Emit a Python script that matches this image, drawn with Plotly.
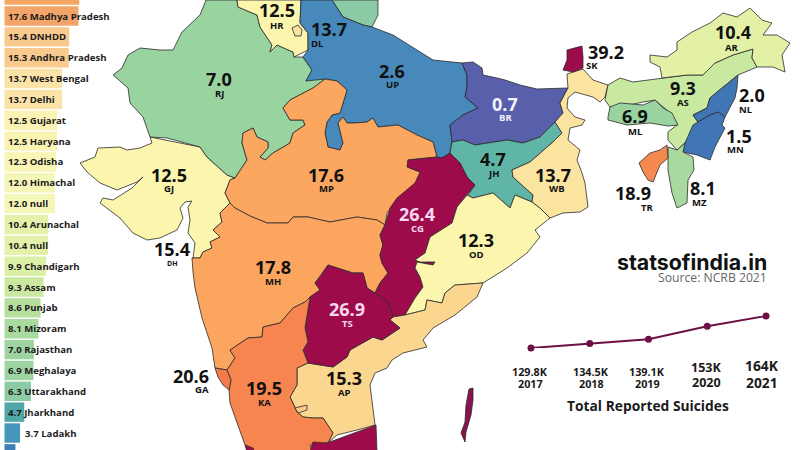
import plotly.graph_objects as go

# side ranking (row 0 = Madhya Pradesh, first and last rows are cut by the frame)
bar_names = ["Maharashtra", "Madhya Pradesh", "DNHDD", "Andhra Pradesh", "West Bengal", "Delhi", "Gujarat",
             "Haryana", "Odisha", "Himachal", "null", "Arunachal", "null", "Chandigarh", "Assam", "Punjab",
             "Mizoram", "Rajasthan", "Meghalaya", "Uttarakhand", "Jharkhand", "Ladakh", "Uttar Pradesh"]
bar_values = [17.8, 17.6, 15.4, 15.3, 13.7, 13.7, 12.5, 12.5, 12.3, 12.0, 12.0, 10.4, 10.4, 9.9, 9.3, 8.6,
              8.1, 7.0, 6.9, 6.3, 4.7, 3.7, 2.6]
bar_colors = ["#f5a662", "#f3a468", "#f9c98e", "#f9c98e", "#fbe2a6", "#fbe2a6", "#fbf3b4", "#fbf3b4", "#f9f5b4",
              "#f5f7b8", "#f5f7b8", "#e3f1aa", "#e3f1aa", "#dcefa6", "#cbe8a2", "#b6df9e", "#a9da9f", "#9dd4a2",
              "#9dd4a2", "#8dcba4", "#4fa7a8", "#4797bd", "#3f7fb8"]

# suicides per year
years = [2017, 2018, 2019, 2020, 2021]
total_suicides = [129.8, 134.5, 139.1, 153, 164]
total_labels = ["129.8K", "134.5K", "139.1K", "153K", "164K"]

# state outlines
GJ = [(150, 137), (152, 143), (140, 148), (127, 150), (120, 147), (98, 148), (95, 157), (80, 163), (87, 172),
      (100, 183), (117, 190), (137, 182), (143, 177), (132, 188), (113, 200), (103, 198), (100, 203), (120, 218),
      (133, 233), (147, 240), (160, 238), (177, 230), (183, 218), (180, 208), (185, 202), (192, 201), (188, 207),
      (190, 220), (188, 233), (195, 243), (193, 258), (200, 258), (203, 252), (212, 248), (210, 242), (220, 237),
      (213, 230), (222, 222), (220, 213), (230, 203), (225, 193), (230, 180), (235, 178), (227, 175), (207, 157),
      (200, 147)]
RJ = [(206, 0), (200, 15), (182, 32), (173, 50), (160, 50), (140, 48), (128, 55), (122, 68), (113, 75), (128, 88),
      (130, 103), (143, 117), (150, 137), (167, 138), (200, 147), (207, 157), (227, 175), (235, 178), (247, 160),
      (242, 143), (243, 133), (253, 128), (257, 137), (268, 142), (268, 148), (260, 157), (265, 160), (273, 153),
      (290, 143), (293, 133), (305, 125), (303, 120), (290, 120), (283, 108), (290, 100), (313, 88), (325, 79),
      (313, 78), (306, 81), (312, 70), (303, 57), (294, 57), (293, 52), (277, 45), (270, 52), (272, 45), (260, 27),
      (257, 15), (238, 7), (237, 0)]
HR = [(237, 0), (238, 7), (257, 15), (260, 27), (272, 45), (270, 52), (277, 45), (293, 52), (294, 57), (308, 50),
      (308, 33), (300, 23), (301, 0)]
DL = [(292, 28), (298, 25), (302, 30), (301, 36), (295, 36)]
UK = [(332, 0), (343, 17), (363, 25), (372, 27), (378, 15), (378, 0)]
UP = [(301, 0), (300, 23), (308, 33), (308, 50), (303, 57), (312, 70), (306, 81), (325, 79), (337, 81), (347, 90),
      (343, 103), (340, 113), (332, 115), (327, 122), (325, 133), (328, 147), (340, 150), (343, 143), (338, 123),
      (343, 117), (347, 123), (355, 123), (367, 122), (373, 118), (378, 127), (398, 125), (417, 135), (433, 142),
      (437, 157), (442, 158), (450, 153), (452, 140), (450, 125), (463, 115), (478, 108), (465, 97), (467, 87),
      (467, 75), (462, 63), (433, 60), (417, 50), (393, 35), (372, 27), (363, 25), (343, 17), (332, 0)]
MP = [(325, 79), (337, 81), (347, 90), (343, 103), (340, 113), (332, 115), (327, 122), (325, 133), (328, 147),
      (340, 150), (343, 143), (338, 123), (343, 117), (347, 123), (355, 123), (367, 122), (373, 118), (378, 127),
      (398, 125), (417, 135), (433, 142), (437, 157), (408, 160), (408, 167), (422, 173), (413, 187), (397, 200),
      (387, 213), (385, 225), (377, 220), (357, 217), (330, 222), (308, 217), (293, 217), (288, 223), (267, 223),
      (250, 216), (235, 208), (230, 203), (225, 193), (230, 180), (235, 178), (247, 160), (242, 143), (243, 133),
      (253, 128), (257, 137), (268, 142), (268, 148), (260, 157), (265, 160), (273, 153), (290, 143), (293, 133),
      (305, 125), (303, 120), (290, 120), (283, 108), (290, 100), (313, 88)]
MH = [(192, 258), (200, 258), (203, 252), (212, 248), (210, 242), (220, 237), (213, 230), (222, 222), (220, 213),
      (230, 203), (235, 208), (250, 216), (267, 223), (288, 223), (293, 217), (308, 217), (330, 222), (357, 217),
      (377, 220), (385, 225), (380, 235), (383, 245), (380, 255), (382, 263), (388, 273), (380, 283), (375, 293),
      (367, 288), (363, 273), (353, 273), (343, 270), (328, 265), (315, 283), (320, 290), (310, 297), (305, 302),
      (293, 308), (280, 323), (263, 327), (262, 337), (248, 338), (230, 350), (235, 358), (227, 370), (215, 368),
      (212, 348), (202, 318), (195, 288), (193, 272)]
BR = [(462, 63), (473, 62), (482, 68), (483, 75), (497, 78), (505, 80), (520, 85), (537, 89), (568, 88), (560, 103),
      (563, 113), (555, 122), (540, 137), (523, 143), (507, 140), (487, 143), (475, 145), (463, 140), (452, 142),
      (450, 125), (463, 115), (478, 108), (465, 97), (467, 87), (467, 75)]
JH = [(452, 142), (463, 140), (475, 145), (487, 143), (507, 140), (523, 143), (540, 137), (555, 122), (562, 133),
      (553, 142), (530, 162), (512, 170), (513, 177), (533, 195), (532, 202), (515, 195), (510, 208), (493, 193),
      (473, 198), (468, 195), (475, 185), (467, 177), (460, 163), (450, 153)]
CG = [(408, 160), (437, 157), (442, 158), (450, 153), (460, 163), (467, 177), (475, 185), (467, 195), (457, 207),
      (452, 223), (430, 237), (425, 253), (415, 260), (420, 262), (435, 262), (433, 265), (417, 262), (415, 268),
      (420, 277), (423, 287), (415, 298), (405, 315), (393, 317), (388, 302), (375, 293), (380, 283), (388, 273),
      (382, 263), (380, 255), (383, 245), (380, 235), (385, 225), (390, 208), (397, 198), (415, 183), (420, 172),
      (407, 167)]
OD = [(467, 195), (473, 198), (493, 193), (510, 208), (515, 195), (532, 202), (540, 208), (550, 218), (535, 230),
      (540, 237), (527, 253), (507, 268), (483, 283), (455, 285), (445, 293), (442, 303), (427, 300), (425, 310),
      (405, 315), (415, 298), (423, 287), (420, 277), (415, 268), (417, 262), (433, 265), (435, 262), (420, 262),
      (415, 260), (425, 253), (430, 237), (452, 223), (457, 207)]
AP = [(483, 283), (477, 297), (455, 315), (433, 328), (423, 340), (427, 347), (403, 353), (392, 360), (387, 368),
      (375, 373), (370, 385), (372, 402), (375, 425), (357, 430), (337, 435), (328, 443), (333, 433), (323, 418),
      (313, 418), (303, 417), (297, 412), (293, 403), (290, 397), (297, 385), (297, 368), (308, 363), (333, 367),
      (347, 357), (350, 350), (373, 337), (382, 340), (400, 328), (390, 320), (393, 317), (405, 315), (425, 310),
      (427, 300), (442, 303), (445, 293), (455, 285)]
TS = [(328, 265), (343, 270), (353, 273), (363, 273), (367, 288), (375, 293), (388, 302), (393, 317), (390, 320),
      (400, 328), (382, 340), (373, 337), (350, 350), (347, 357), (333, 367), (308, 363), (303, 350), (308, 342),
      (305, 328), (310, 297), (320, 290), (315, 283), (320, 277)]
KA = [(227, 370), (235, 358), (230, 350), (248, 338), (262, 337), (263, 327), (280, 323), (293, 308), (305, 302),
      (310, 297), (305, 328), (308, 342), (303, 350), (308, 363), (297, 368), (297, 385), (290, 397), (293, 403),
      (297, 412), (303, 417), (313, 418), (323, 418), (333, 433), (328, 443), (310, 445), (313, 452), (253, 452),
      (245, 445), (230, 403), (229, 390), (231, 380)]
KA_POCKET = [(295, 408), (307, 405), (307, 410), (298, 413)]
GA = [(215, 368), (227, 370), (231, 380), (229, 390), (223, 385), (218, 377)]
KL = [(245, 445), (253, 448), (254, 452), (247, 452)]
TN = [(310, 452), (313, 442), (327, 443), (335, 440), (357, 432), (376, 425), (377, 452)]
AN = [(469, 389), (473, 388), (473, 400), (471, 415), (466, 432), (465, 442), (461, 433), (465, 422), (466, 405)]
WB = [(567, 74), (583, 69), (593, 80), (608, 85), (605, 97), (600, 102), (593, 97), (575, 92), (568, 98), (567, 108),
      (575, 117), (585, 120), (582, 125), (570, 128), (568, 140), (580, 150), (577, 160), (582, 173), (585, 183),
      (588, 207), (580, 212), (563, 213), (550, 218), (540, 208), (532, 202), (533, 195), (513, 177), (512, 170),
      (530, 162), (553, 142), (562, 133), (555, 122), (563, 113), (560, 103), (568, 88)]
SK = [(567, 50), (582, 46), (583, 57), (583, 68), (573, 72), (563, 70), (567, 60)]
AS = [(608, 85), (620, 78), (633, 82), (662, 78), (687, 75), (703, 75), (715, 63), (733, 55), (753, 49), (752, 58),
      (757, 67), (738, 75), (722, 88), (710, 98), (707, 108), (693, 115), (698, 122), (685, 143), (677, 150),
      (668, 140), (668, 132), (677, 125), (667, 110), (663, 107), (655, 100), (643, 102), (620, 107), (610, 107),
      (605, 100)]
ML = [(608, 117), (610, 107), (620, 103), (643, 105), (655, 100), (663, 108), (672, 113), (678, 125), (668, 126),
      (650, 123), (627, 125), (608, 120)]
AR = [(650, 55), (667, 57), (677, 50), (677, 42), (692, 32), (710, 23), (723, 13), (737, 17), (750, 8), (762, 20),
      (772, 23), (763, 35), (777, 35), (790, 43), (782, 55), (785, 72), (773, 67), (757, 67), (752, 58), (753, 49),
      (733, 55), (715, 63), (703, 75), (687, 75), (662, 78), (660, 67), (650, 62)]
NL = [(738, 75), (737, 88), (735, 98), (730, 107), (725, 117), (718, 112), (710, 115), (698, 122), (693, 115),
      (707, 108), (710, 98), (722, 88)]
MN = [(698, 122), (710, 115), (718, 112), (725, 117), (722, 125), (725, 128), (715, 147), (710, 160), (697, 155),
      (683, 152), (685, 143), (693, 125)]
MZ = [(677, 150), (685, 143), (683, 152), (693, 157), (694, 170), (688, 180), (687, 203), (677, 208), (672, 193),
      (668, 170), (668, 147)]
TR = [(667, 145), (668, 158), (660, 165), (653, 182), (648, 180), (643, 172), (639, 163), (650, 153), (660, 150)]

# drawing order, colour of each state
map_shapes = [GJ, RJ, HR, DL, UK, UP, MP, MH, BR, JH, CG, OD, AP, TS, KA, KA_POCKET, GA, KL, TN, AN, WB, SK, AS, ML,
              AR, NL, MN, MZ, TR]
map_colors = ["#fbf5ae", "#98d3a0", "#fbf5ae", "#fbe3a2", "#8acaa4", "#4789bb", "#fba75f", "#fba55f", "#585fab",
              "#5fb5a6", "#9e0b4b", "#fbf5ae", "#fbd68f", "#9e0b4b", "#f6854f", "#fbc98a", "#f47a4c", "#9e0b4b",
              "#9e0b4b", "#8c1150", "#fbe3a0", "#9e0b4b", "#c9e8a0", "#98d3a0", "#e2f1a6", "#4076b5", "#4076b5",
              "#a8da9f", "#f68a4e"]

# value labels on the map
state_values = ["12.5", "13.7", "7.0", "2.6", "0.7", "4.7", "13.7", "39.2", "10.4", "9.3", "6.9", "2.0", "1.5", "18.9",
                "8.1", "17.6", "26.4", "12.3", "17.8", "26.9", "19.5", "15.3", "20.6", "15.4", "12.5"]
state_codes = ["HR", "DL", "RJ", "UP", "BR", "JH", "WB", "SK", "AR", "AS", "ML", "NL", "MN", "TR",
               "MZ", "MP", "CG", "OD", "MH", "TS", "KA", "AP", "GA", "DH", "GJ"]
value_pos = [(277, 10), (329, 29), (219, 79), (392, 71), (505, 104), (493, 159), (553, 175), (606, 52), (733, 32),
             (683, 88), (635, 116), (752, 95), (739, 136), (633, 193), (703, 188), (326, 175), (417, 214), (476, 240),
             (273, 267), (347, 309), (264, 388), (344, 378), (191, 376), (172, 249), (169, 175)]
code_pos = [(277, 25), (317, 43), (219, 93), (392, 84), (505, 117), (493, 173), (557, 188), (592, 65), (732, 47),
            (683, 102), (635, 131), (746, 109), (735, 149), (647, 207), (699, 202), (326, 188), (417, 228), (476, 254),
            (273, 281), (347, 323), (264, 402), (344, 392), (202, 389), (172, 263), (169, 188)]
light_labels = {"BR": "#f4f2fb", "CG": "#f8d8ee", "TS": "#f8d8ee"}

FONT = "Open Sans"
fig = go.Figure()

for shape, color in zip(map_shapes, map_colors):
    fig.add_trace(go.Scatter(x=[p[0] for p in shape] + [shape[0][0]], y=[p[1] for p in shape] + [shape[0][1]],
                             mode="lines", fill="toself", fillcolor=color, line=dict(color="#2b2b2b", width=0.8),
                             hoverinfo="skip", showlegend=False))

fig.add_trace(go.Bar(y=list(range(-1, len(bar_values) - 1)), x=bar_values, orientation="h", width=0.93,
                     marker=dict(color=bar_colors, line=dict(width=0)), xaxis="x2", yaxis="y2",
                     hoverinfo="skip", showlegend=False))

fig.add_trace(go.Scatter(x=years, y=total_suicides, mode="lines+markers", xaxis="x3", yaxis="y3", cliponaxis=False,
                         line=dict(color="#6d1145", width=2), marker=dict(color="#6d1145", size=7),
                         hoverinfo="skip", showlegend=False))

annotations = []
def add_text(text, x, y, size, color="#111111", xref="x", yref="y", xanchor="center", family=FONT, weight=700):
    annotations.append(dict(text=text, x=x, y=y, xref=xref, yref=yref, xanchor=xanchor, yanchor="middle",
                            showarrow=False, borderpad=0, font=dict(family=family, size=size, color=color, weight=weight)))

for i, (value, name) in enumerate(zip(bar_values, bar_names)):
    label_x = 0.6 if value > 4 else value + 0.9
    add_text(f"{value:.1f} {name}", label_x, i - 1, 9.6, "#1c1c1c", "x2", "y2", "left")

for value, code, vp, cp in zip(state_values, state_codes, value_pos, code_pos):
    color = light_labels.get(code, "#111111")
    add_text(value, vp[0], vp[1], 18, color)
    add_text(code, cp[0], cp[1], 7 if code == "DH" else 9.5, color)

add_text("statsofindia.in", 768, 262, 21.3, "#111111", xanchor="right", family="Inter")
add_text("Source: NCRB 2021", 768, 277, 12.2, "#666666", xanchor="right", weight=400)

label_sizes = [10.8, 10.8, 10.8, 12.5, 13.8]
label_x = [530, 591, 647, 706, 762]
label_y = [371, 371, 371, 367, 365]
year_y = [383, 383, 383, 382.5, 382]
for lab, year, x, y, yy, size in zip(total_labels, years, label_x, label_y, year_y, label_sizes):
    add_text(lab, x, y, size, "#1a1a1a")
    add_text(str(year), x, yy, size, "#1a1a1a")
add_text("Total Reported Suicides", 648, 405, 13.8, "#1a1a1a")

off = dict(visible=False, showgrid=False, zeroline=False)
row_px = 20.85
fig.update_layout(
    width=800, height=450, margin=dict(l=0, r=0, t=0, b=0), paper_bgcolor="white", plot_bgcolor="rgba(0,0,0,0)",
    xaxis=dict(range=[0, 800], domain=[0, 1], **off),
    yaxis=dict(range=[450, 0], domain=[0, 1], **off),
    xaxis2=dict(range=[-4.5 / 4.2, 195.5 / 4.2], domain=[0, 0.25], anchor="y2", **off),
    yaxis2=dict(range=[(450 - 16) / row_px, -16 / row_px], domain=[0, 1], anchor="x2", **off),
    xaxis3=dict(range=[2017, 2021], domain=[531 / 800, 766 / 800], anchor="y3", **off),
    yaxis3=dict(range=[129.8, 164], domain=[1 - 348 / 450, 1 - 316 / 450], anchor="x3", **off),
    annotations=annotations,
)

fig.write_html("out.html", config={"displayModeBar": False}, post_script="document.body.style.margin = '0';")
